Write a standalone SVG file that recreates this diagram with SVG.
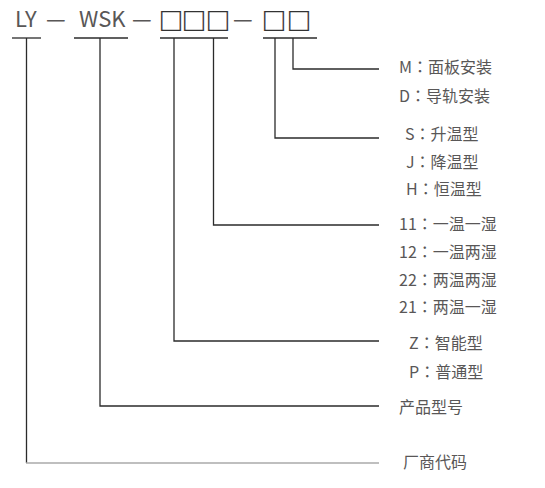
<svg xmlns="http://www.w3.org/2000/svg" width="545" height="488" viewBox="0 0 545 488">
<style>
.t{font-family:"Noto Sans CJK SC","Noto Sans",sans-serif;fill:#595757;}
.h{font-size:22px;}
.b{font-family:"DejaVu Sans",sans-serif;font-size:33px;font-weight:200;fill:#333333;stroke:#333333;stroke-width:0.15;}
.l{font-size:16px;}
.c{font-family:"Noto Sans CJK TC","Noto Sans CJK JP",sans-serif;}
.ln{stroke:#2b2b2b;stroke-width:1.3;fill:none;}
.lg{stroke:#aaaaaa;stroke-width:1.3;fill:none;}
</style>
<rect width="545" height="488" fill="#ffffff"/>
<g id="code">
<text class="t h" x="15" y="27">LY</text>
<text class="t h" x="46" y="27">—</text>
<text class="t h" x="79" y="27">WSK</text>
<text class="t h" x="132" y="27">—</text>
<text class="b" x="161 184 208" y="31">□□□</text>
<text class="t h" x="233" y="27">—</text>
<text class="b" x="264 289" y="31">□□</text>
</g>
<g id="connectors">
<line class="ln" x1="12" y1="38" x2="41" y2="38"/>
<line class="ln" x1="74" y1="38" x2="128" y2="38"/>
<line class="ln" x1="160" y1="38" x2="228" y2="38"/>
<line class="ln" x1="263" y1="38" x2="317" y2="38"/>
<polyline class="ln" points="293,38 293,69 379,69"/>
<polyline class="ln" points="275,38 275,138 379,138"/>
<polyline class="ln" points="213.5,38 213.5,225 379,225"/>
<polyline class="ln" points="174,38 174,341 379,341"/>
<polyline class="ln" points="100,38 100,406 379,406"/>
<line class="ln" x1="26.5" y1="38" x2="26.5" y2="463"/>
<line class="lg" x1="26" y1="463" x2="379" y2="463"/>
</g>
<g id="install">
<text class="t l" x="399" y="73">M<tspan class="c">：</tspan>面板安装</text>
<text class="t l" x="399" y="102">D<tspan class="c">：</tspan>导轨安装</text>
</g>
<g id="temp">
<text class="t l" x="405" y="140">S<tspan class="c">：</tspan>升温型</text>
<text class="t l" x="406" y="168">J<tspan class="c">：</tspan>降温型</text>
<text class="t l" x="406" y="195">H<tspan class="c">：</tspan>恒温型</text>
</g>
<g id="channels">
<text class="t l" x="399" y="230">11<tspan class="c">：</tspan>一温一湿</text>
<text class="t l" x="399" y="258">12<tspan class="c">：</tspan>一温两湿</text>
<text class="t l" x="399" y="286">22<tspan class="c">：</tspan>两温两湿</text>
<text class="t l" x="399" y="313">21<tspan class="c">：</tspan>两温一湿</text>
</g>
<g id="type">
<text class="t l" x="409" y="349">Z<tspan class="c">：</tspan>智能型</text>
<text class="t l" x="409" y="378">P<tspan class="c">：</tspan>普通型</text>
</g>
<g id="product">
<text class="t l" x="399" y="413">产品型号</text>
</g>
<g id="vendor">
<text class="t l" x="403" y="468">厂商代码</text>
</g>
</svg>
